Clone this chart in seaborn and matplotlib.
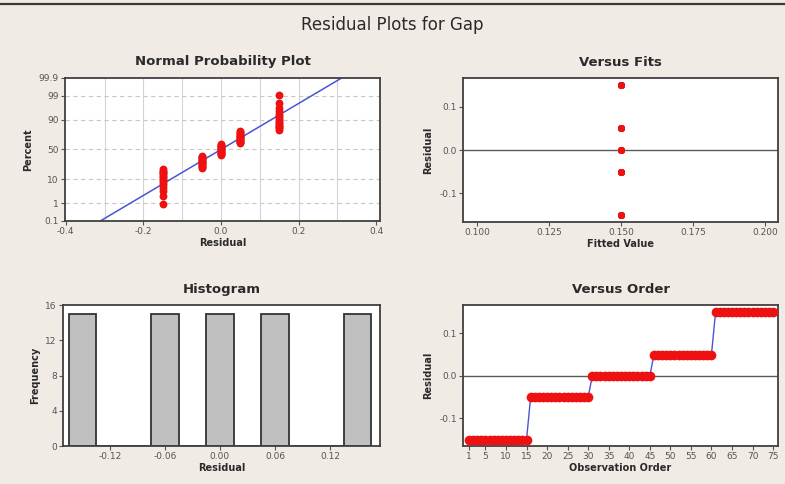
import numpy as np
import pandas as pd
import matplotlib
matplotlib.use('Agg')
import matplotlib.pyplot as plt
from matplotlib.lines import Line2D
import seaborn as sns
from statistics import NormalDist

resid_levels = [-0.15, -0.05, 0.0, 0.05, 0.15]
resid_counts = [15, 15, 15, 15, 15]
fitted_value = 0.15

npp_pct_ticks = [0.1, 1, 10, 50, 90, 99, 99.9]
npp_pct_labels = ['0.1', '1', '10', '50', '90', '99', '99.9']
npp_x_ticks = [-0.4, -0.2, 0.0, 0.2, 0.4]
fits_x_ticks = [0.100, 0.125, 0.150, 0.175, 0.200]
hist_x_ticks = [-0.12, -0.06, 0.00, 0.06, 0.12]
hist_y_ticks = [0, 4, 8, 12, 16]
order_x_ticks = [1, 5, 10, 15, 20, 25, 30, 35, 40, 45, 50, 55, 60, 65, 70, 75]
resid_y_ticks = [-0.1, 0.0, 0.1]

residuals = np.repeat(resid_levels, resid_counts)
n = len(residuals)
df = pd.DataFrame({'order': np.arange(1, n + 1),
                   'resid': residuals,
                   'fit': np.full(n, fitted_value)})

nd = NormalDist()
srt = np.sort(residuals)
pp = (np.arange(1, n + 1) - 0.3) / (n + 0.4)
npp = pd.DataFrame({'resid': srt, 'z': [nd.inv_cdf(p) for p in pp]})
mu, sd = residuals.mean(), residuals.std(ddof=1)
zl = nd.inv_cdf(0.001)
zh = nd.inv_cdf(0.999)
fitline = pd.DataFrame({'z': [zl, zh], 'x': [mu + sd * zl, mu + sd * zh]})

sns.set_theme(style='white')
plt.rcParams['font.family'] = ['DejaVu Sans']

BG = '#f0ebe4'
FRAME = '#404040'
TXT = '#2a2a2a'
TCK = '#555555'
RED = '#ee1111'
BLUE = '#4a55d6'

fig = plt.figure(figsize=(7.85, 4.84), dpi=100)
fig.patch.set_facecolor(BG)
fig.add_artist(Line2D([0.0, 1.0], [1 - 3.5 / 484, 1 - 3.5 / 484],
                      color='#3a3a3a', lw=1.6, transform=fig.transFigure))
fig.text(0.5, 1 - 25 / 484, 'Residual Plots for Gap', ha='center', va='center',
         fontsize=12, color=TXT)

ax1 = fig.add_axes([0.0828, 0.5434, 0.4013, 0.2955])
ax2 = fig.add_axes([0.5898, 0.5413, 0.4013, 0.2975])
ax3 = fig.add_axes([0.0803, 0.0785, 0.4038, 0.2913])
ax4 = fig.add_axes([0.5898, 0.0785, 0.4013, 0.2913])


def style(ax, title, xlabel, ylabel):
    ax.set_facecolor('white')
    for s in ax.spines.values():
        s.set_color(FRAME)
        s.set_linewidth(1.3)
    ax.tick_params(axis='both', which='major', direction='out', length=3, width=0.8,
                   color=TCK, labelcolor=TCK, labelsize=6.5, pad=1.5,
                   bottom=True, left=True)
    ax.set_title(title, fontsize=9.5, fontweight='bold', color=TXT, pad=9)
    ax.set_xlabel(xlabel, fontsize=7, fontweight='bold', color=TXT, labelpad=1)
    ax.set_ylabel(ylabel, fontsize=7, fontweight='bold', color=TXT, labelpad=4)


# normal probability plot
for v in [-0.3, -0.2, -0.1, 0.0, 0.1, 0.2, 0.3]:
    ax1.axvline(v, color='#d4d4d4', lw=0.8, zorder=0)
for p in [1, 10, 50, 90, 99]:
    ax1.axhline(nd.inv_cdf(p / 100), color='#c8c8c8', lw=0.8, ls=(0, (4, 3)), zorder=0)
sns.lineplot(data=fitline, x='x', y='z', ax=ax1, color=BLUE, lw=1.1, zorder=2)
sns.scatterplot(data=npp, x='resid', y='z', ax=ax1, color=RED, s=32,
                edgecolor=RED, linewidth=0, zorder=3)
ax1.set_xlim(-0.402, 0.41)
ax1.set_ylim(zl, zh)
ax1.set_xticks(npp_x_ticks)
ax1.set_xticklabels([f'{v:.1f}' for v in npp_x_ticks])
ax1.set_yticks([nd.inv_cdf(p / 100) for p in npp_pct_ticks])
ax1.set_yticklabels(npp_pct_labels)
style(ax1, 'Normal Probability Plot', 'Residual', 'Percent')

# versus fits
ax2.axhline(0, color='#5a5a5a', lw=1.0, zorder=1)
sns.scatterplot(data=df, x='fit', y='resid', ax=ax2, color=RED, s=22,
                edgecolor=RED, linewidth=0, zorder=3)
ax2.set_xlim(0.0951, 0.2045)
ax2.set_ylim(-0.167, 0.167)
ax2.set_xticks(fits_x_ticks)
ax2.set_xticklabels([f'{v:.3f}' for v in fits_x_ticks])
ax2.set_yticks(resid_y_ticks)
ax2.set_yticklabels([f'{v:.1f}' for v in resid_y_ticks])
style(ax2, 'Versus Fits', 'Fitted Value', 'Residual')

# histogram
sns.histplot(data=df, x='resid', ax=ax3, binwidth=0.03, binrange=(-0.165, 0.165),
             color='#c0c0c0', edgecolor='#333333', linewidth=1.3, alpha=1)
ax3.set_xlim(-0.171, 0.1745)
ax3.set_ylim(0, 16)
ax3.set_xticks(hist_x_ticks)
ax3.set_xticklabels([f'{v:.2f}' for v in hist_x_ticks])
ax3.set_yticks(hist_y_ticks)
style(ax3, 'Histogram', 'Residual', 'Frequency')

# versus order
ax4.axhline(0, color='#5a5a5a', lw=1.0, zorder=1)
sns.lineplot(data=df, x='order', y='resid', ax=ax4, color=BLUE, lw=1.0,
             marker='o', markersize=7, markerfacecolor=RED, markeredgecolor=RED,
             markeredgewidth=0, zorder=3)
ax4.set_xlim(-0.46, 76.2)
ax4.set_ylim(-0.165, 0.167)
ax4.set_xticks(order_x_ticks)
ax4.set_yticks(resid_y_ticks)
ax4.set_yticklabels([f'{v:.1f}' for v in resid_y_ticks])
style(ax4, 'Versus Order', 'Observation Order', 'Residual')

fig.savefig('out.png', dpi=100, facecolor=BG)
